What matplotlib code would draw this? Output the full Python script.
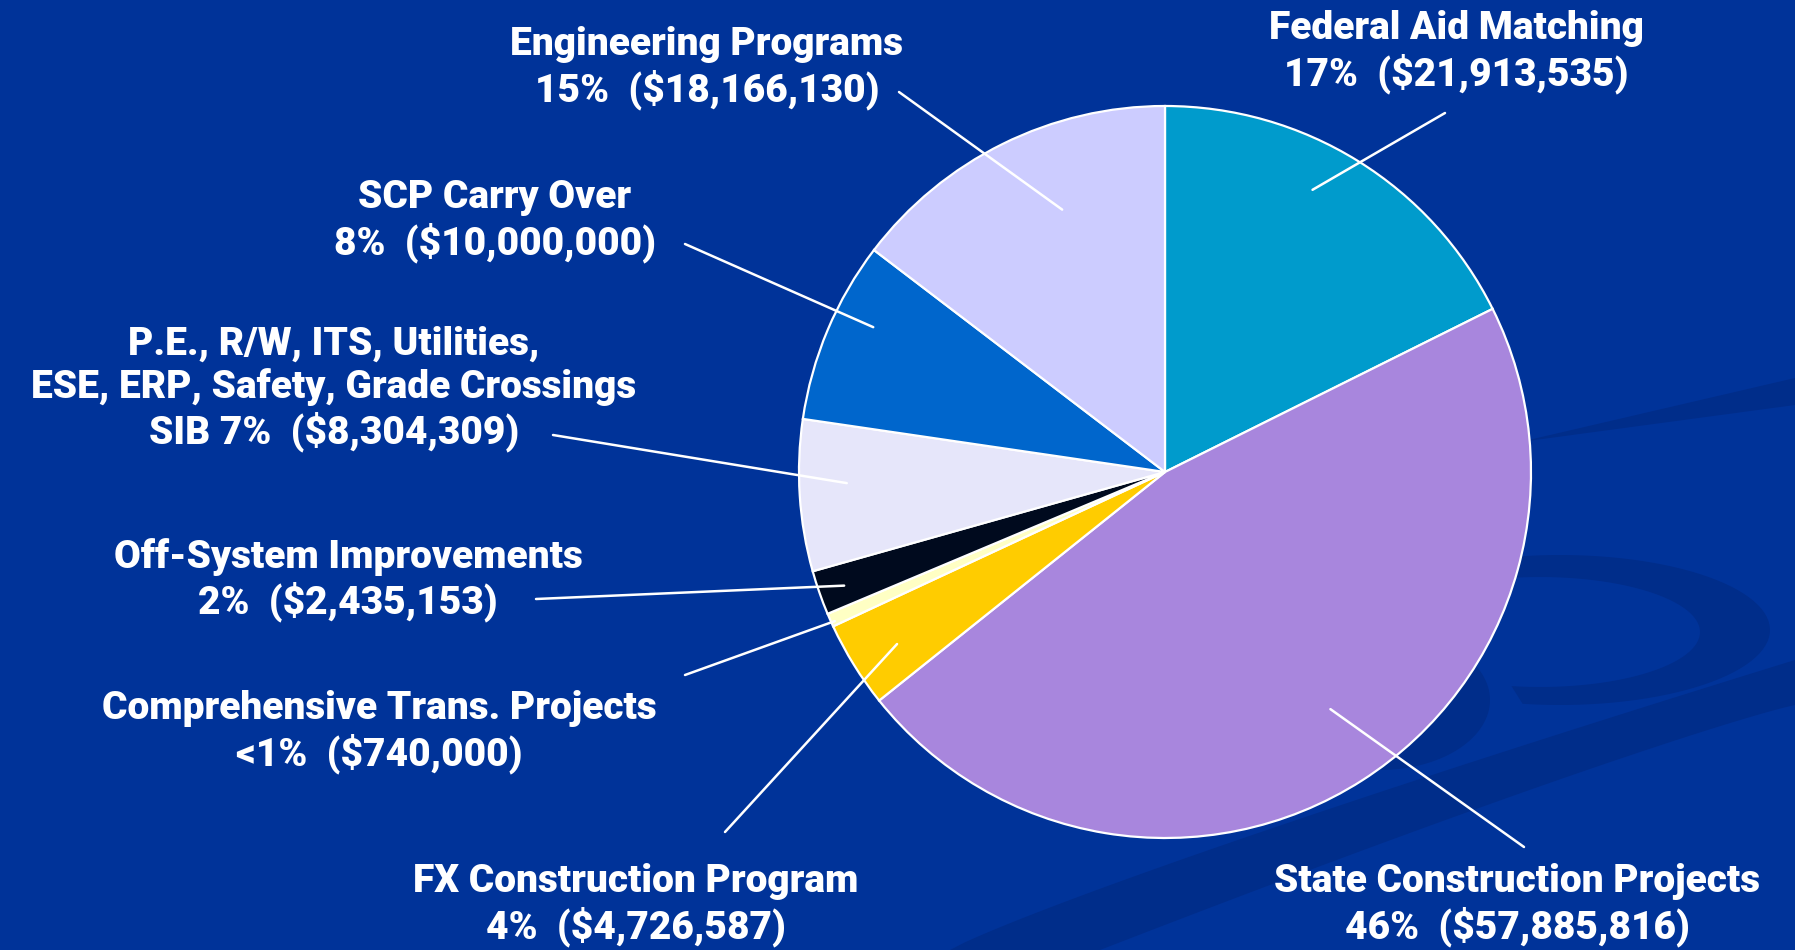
import matplotlib.pyplot as plt
import numpy as np
from matplotlib.patches import Polygon

# budget categories, clockwise from 12 o'clock
categories = ['Federal Aid Matching', 'State Construction Projects', 'FX Construction Program',
              'Comprehensive Trans. Projects', 'Off-System Improvements',
              'P.E., R/W, ITS, Utilities,\nESE, ERP, Safety, Grade Crossings\nSIB',
              'SCP Carry Over', 'Engineering Programs']
amounts = [21913535, 57885816, 4726587, 740000, 2435153, 8304309, 10000000, 18166130]
pct_labels = ['17%', '46%', '4%', '<1%', '2%', '7%', '8%', '15%']
colors = ['#009BCC', '#A886DD', '#FFCC00', '#FFFFC4', '#000A1E', '#E6E6FA', '#0066CC', '#CCCCFF']

# layout (figure pixels from bottom-left): label centre, leader end,
# leader start as (angle deg, radius fraction) inside the wedge
label_xy = [(1456, 898), (1517, 45), (636, 45), (379, 218), (348, 370), (334, 561), (495, 729), (707, 882)]
leader_end = [(1445, 837), (1524, 103), (725, 118), (685, 275), (536, 351), (553, 515), (685, 706), (899, 858)]
leader_start = [(62.4, 0.87), (304.9, 0.79), (212.7, 0.87), (204.3, 0.99), (199.5, 0.93),
                (182.0, 0.87), (153.6, 0.89), (111.4, 0.77)]
label_sep = ['\n', '\n', '\n', '\n', '\n', ' ', '\n', '\n']

W, H = 1795, 950
BG = '#003399'
SW = '#002D8A'
fig = plt.figure(figsize=(W / 100, H / 100), dpi=100)
fig.patch.set_facecolor(BG)

# subtle background swooshes
bg = fig.add_axes([0, 0, 1, 1])
bg.set_xlim(0, W)
bg.set_ylim(0, H)
bg.axis('off')
t = np.linspace(0, 1, 60)
# long diagonal band at the bottom
top = np.column_stack([950 + 845 * t, 0 + 290 * t ** 0.9])
bot = np.column_stack([1795 - 695 * t, 245 - 245 * t ** 1.1])
bg.add_patch(Polygon(np.vstack([top, bot]), closed=True, color=SW, lw=0))
# thin band on the right, upper
top = np.column_stack([1520 + 275 * t, 508 + 64 * t])
bot = np.column_stack([1795 - 275 * t, 545 - 37 * t])
bg.add_patch(Polygon(np.vstack([top, bot]), closed=True, color=SW, lw=0))
# crescent
ang = np.linspace(2.6, -1.75, 80)
outer = np.column_stack([1560 + 210 * np.cos(ang), 320 + 75 * np.sin(ang)])
inner = np.column_stack([1540 + 160 * np.cos(ang[::-1]), 318 + 55 * np.sin(ang[::-1])])
bg.add_patch(Polygon(np.vstack([outer, inner]), closed=True, color=SW, lw=0))
# small crescent below the pie
ang = np.linspace(0.9, -1.9, 60)
outer = np.column_stack([1380 + 110 * np.cos(ang), 250 + 70 * np.sin(ang)])
inner = np.column_stack([1360 + 80 * np.cos(ang[::-1]), 262 + 50 * np.sin(ang[::-1])])
bg.add_patch(Polygon(np.vstack([outer, inner]), closed=True, color=SW, lw=0))

cx, cy, r = 1165, 478, 366
ax = fig.add_axes([(cx - r) / W, (cy - r) / H, 2 * r / W, 2 * r / H])
wedges, _ = ax.pie(amounts, colors=colors, startangle=90, counterclock=False,
                   wedgeprops=dict(edgecolor='white', linewidth=1.6))
ax.set_xlim(-1, 1)
ax.set_ylim(-1, 1)
ax.set_aspect('equal')

font = dict(family=['Roboto', 'DejaVu Sans'], weight=900, size=28, color='white')

for i, w in enumerate(wedges):
    a = np.deg2rad(leader_start[i][0])
    x0, y0 = leader_start[i][1] * np.cos(a), leader_start[i][1] * np.sin(a)
    ax.annotate('', xy=(x0, y0), xycoords='data', xytext=leader_end[i], textcoords='figure pixels',
                arrowprops=dict(arrowstyle='-', color='white', lw=1.8, shrinkA=0, shrinkB=0),
                annotation_clip=False)
    txt = categories[i] + label_sep[i] + pct_labels[i] + '  ($' + format(amounts[i], ',') + ')'
    fig.text(label_xy[i][0] / W, label_xy[i][1] / H, txt, ha='center', va='center',
             linespacing=1.17, **font)

fig.savefig('out.png', dpi=100, facecolor=fig.get_facecolor())
